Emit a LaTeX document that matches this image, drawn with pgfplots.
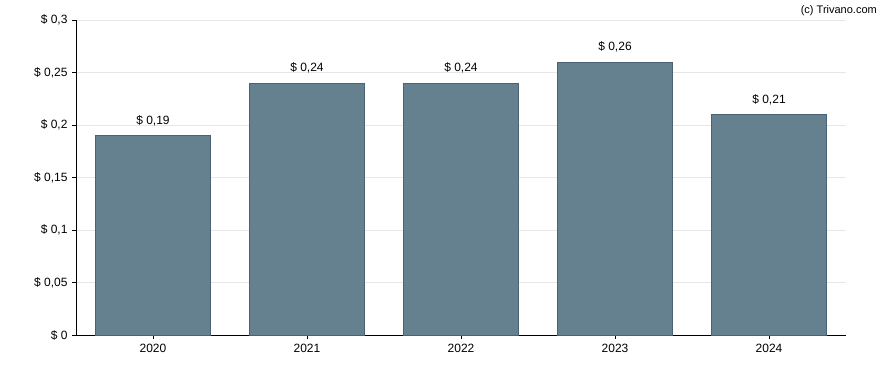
\documentclass[border=0pt]{standalone}
\usepackage{pgfplots}
\pgfplotsset{compat=1.18}
\usepackage{fontspec}
\setmainfont{Liberation Sans}
\definecolor{barfill}{HTML}{65808F}
\definecolor{baredge}{HTML}{4A6275}
\definecolor{gridc}{HTML}{E6E6E6}
\begin{document}
\begin{tikzpicture}
\useasboundingbox (0pt,0pt) rectangle (888pt,370pt);
\begin{axis}[
  at={(76pt,35pt)}, anchor=south west,
  scale only axis, width=770pt, height=315pt,
  xmin=-0.5, xmax=4.5, ymin=0, ymax=0.3,
  axis x line*=bottom, axis y line*=left,
  axis line style={black, line width=0.9pt},
  xtick={0,1,2,3,4},
  xticklabels={2020,2021,2022,2023,2024},
  ytick={0,0.05,0.1,0.15,0.2,0.25,0.3},
  yticklabels={{\$ 0},{\$ 0,05},{\$ 0,1},{\$ 0,15},{\$ 0,2},{\$ 0,25},{\$ 0,3}},
  tick style={black, line width=0.9pt},
  tick align=outside,
  major tick length=4pt,
  ymajorgrids, grid style={gridc, line width=0.7pt},
  ticklabel style={font=\fontsize{12}{14}\selectfont},
  xticklabel style={yshift=-2pt},
  yticklabel style={xshift=-1pt},
  clip=false,
]
\addplot[ybar, bar width=0.75, fill=barfill, draw=baredge, line width=0.8pt,
  nodes near coords={\$ 0,\pgfplotspointmeta},
  nodes near coords style={font=\fontsize{12}{14}\selectfont, black, anchor=south, yshift=6pt},
  point meta=explicit symbolic]
  coordinates {(0,0.19) [19] (1,0.24) [24] (2,0.24) [24] (3,0.26) [26] (4,0.21) [21]};
\end{axis}
\node[anchor=north east, font=\fontsize{11}{13}\selectfont, inner sep=0pt] at (877pt,365pt) {(c) Trivano.com};
\end{tikzpicture}
\end{document}
